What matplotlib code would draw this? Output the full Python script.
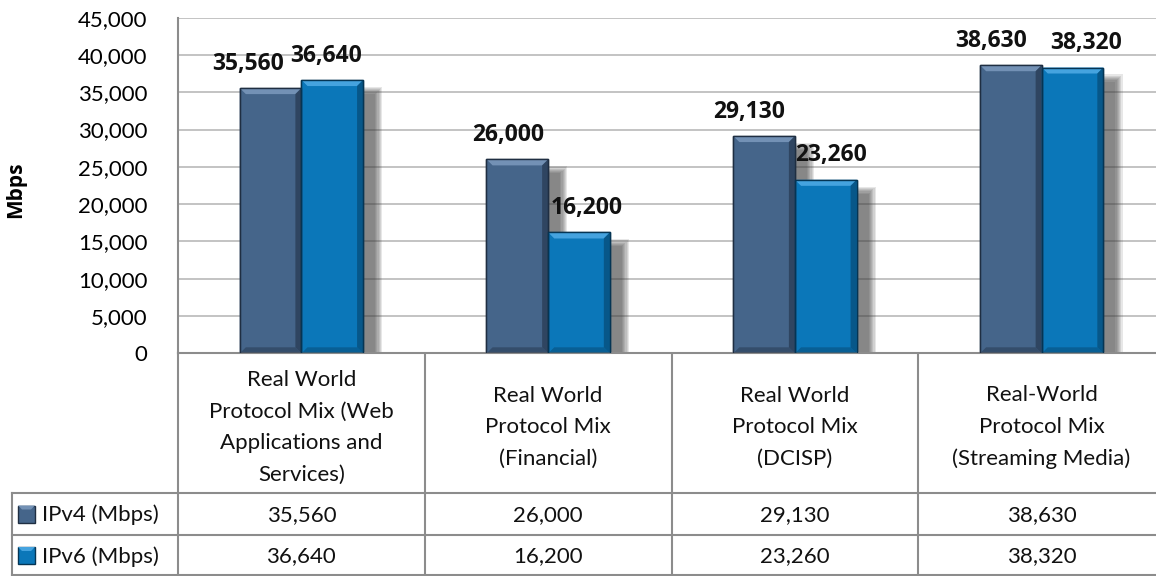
import numpy as np
import matplotlib.pyplot as plt
from matplotlib.patches import Polygon, Rectangle
from matplotlib.transforms import blended_transform_factory

plt.rcParams["font.family"] = ["Lato", "DejaVu Sans"]

categories = [
    "Real World\nProtocol Mix (Web\nApplications and\nServices)",
    "Real World\nProtocol Mix\n(Financial)",
    "Real World\nProtocol Mix\n(DCISP)",
    "Real-World\nProtocol Mix\n(Streaming Media)",
]
series_names = ["IPv4 (Mbps)", "IPv6 (Mbps)"]
ipv4 = [35560, 26000, 29130, 38630]
ipv6 = [36640, 16200, 23260, 38320]
yticks = np.arange(0, 45001, 5000)

# face, light bevel, dark bevel, outline
styles = [
    ("#45658A", "#7391B5", "#2A3E57", "#1F2E42"),
    ("#0B77B9", "#45A3DF", "#07507E", "#053554"),
]
# data label x shifts in px (Excel nudges overlapping labels)
label_dx = [[-22, -6], [-9, 8], [-15, 5], [-20, 14]]

W, H = 1156, 576
fig = plt.figure(figsize=(W / 100, H / 100), dpi=100)

# pixel geometry of the plot area (right edge runs past the image)
x0, x1, ybase, ytop = 178, 1165, 353.3, 17.7
ax = fig.add_axes([x0 / W, (H - ybase) / H, (x1 - x0) / W, (ybase - ytop) / H])
ax.set_xlim(-0.5, len(categories) - 0.5)
ax.set_ylim(0, 45000)

px_x = (len(categories)) / (x1 - x0)   # data units per px (x)
px_y = 45000 / (ybase - ytop)          # data units per px (y)

for y in yticks[1:]:
    ax.axhline(y, color="#BEBEBE", lw=1.3, zorder=0)

x = np.arange(len(categories))
width = 0.25
series = [ipv4, ipv6]
offsets = [-width / 2, width / 2]

# soft drop shadows
for vals, off in zip(series, offsets):
    for xi, v in zip(x, vals):
        left = xi + off - width / 2
        for k in range(7):
            grow = k * 1.2
            ax.add_patch(Rectangle(
                (left + (9 - grow) * px_x, 0),
                width + (3 + 2 * grow) * px_x,
                v - (14 - grow) * px_y,
                color="#3A3A3A", alpha=0.12, lw=0, zorder=1))

# beveled bars
b = 6
for vals, off, (face, light, dark, edge) in zip(series, offsets, styles):
    bars = ax.bar(x + off, vals, width, color=face, edgecolor=edge, lw=1.0, zorder=2)
    for bar in bars:
        l, r = bar.get_x(), bar.get_x() + bar.get_width()
        t = bar.get_height()
        bx, by = b * px_x, b * px_y
        ax.add_patch(Polygon([(l, t), (r, t), (r - bx, t - by), (l + bx, t - by)],
                             color=light, lw=0, zorder=3))
        ax.add_patch(Polygon([(r, t), (r, 0), (r - bx, by), (r - bx, t - by)],
                             color=dark, lw=0, alpha=0.8, zorder=3))
        ax.add_patch(Polygon([(l, 0), (r, 0), (r - bx, by), (l + bx, by)],
                             color=dark, lw=0, alpha=0.6, zorder=3))
        ax.add_patch(Polygon([(l, t), (l, 0), (l + bx, by), (l + bx, t - by)],
                             color=face, lw=0, alpha=0.6, zorder=3))
        ax.add_patch(Rectangle((l, 0), r - l, t, fill=False, ec=edge, lw=1.0, zorder=4))

for s, (vals, off) in enumerate(zip(series, offsets)):
    for i, (xi, v) in enumerate(zip(x, vals)):
        ax.annotate(f"{v:,}", (xi + off, v), xytext=(label_dx[i][s] * 0.72, 9),
                    textcoords="offset points", ha="center", va="bottom",
                    fontsize=16.5, fontweight="bold", family=["Open Sans", "DejaVu Sans"],
                    color="#111111", zorder=5)

ax.set_yticks(yticks)
ax.set_yticklabels([f"{t:,}" for t in yticks], fontsize=16)
ax.tick_params(axis="y", length=0, pad=22)
ax.set_xticks([])
for side in ["top", "right"]:
    ax.spines[side].set_visible(False)
ax.spines["left"].set_color("#8C8C8C")
ax.spines["bottom"].set_color("#8C8C8C")
ax.spines["left"].set_linewidth(1.5)
ax.spines["bottom"].set_linewidth(1.5)

# overlay in figure pixels for the data table
ov = fig.add_axes([0, 0, 1, 1], zorder=-1)
ov.set_xlim(0, W)
ov.set_ylim(H, 0)
ov.axis("off")
ov.patch.set_alpha(0)

ov.text(16, 190, "Mbps", rotation=90, ha="center", va="center",
        fontsize=15, fontweight="bold", family=["Open Sans", "DejaVu Sans"])

grid_c, grid_w = "#8C8C8C", 1.5
row1, row2, row3 = 493, 535, 576
ov.plot([x0, x0], [ybase, row3], color=grid_c, lw=grid_w)
for i in range(1, len(categories)):
    xs = x0 + i * (x1 - x0) / len(categories)
    ov.plot([xs, xs], [ybase, row3], color=grid_c, lw=grid_w)
ov.plot([12, W], [row1, row1], color=grid_c, lw=grid_w)
ov.plot([12, W], [row2, row2], color=grid_c, lw=grid_w)
ov.plot([12, W], [row3 - 0.8, row3 - 0.8], color=grid_c, lw=grid_w)
ov.plot([12, 12], [row1, row3], color=grid_c, lw=grid_w)

tr = blended_transform_factory(ax.transData, ov.transData)
for xi, cat in zip(x, categories):
    ov.text(xi, (ybase + row1) / 2 + 4, cat, transform=tr, ha="center", va="center",
            fontsize=16, linespacing=1.72, color="#111111")
rows_y = [(row1 + row2) / 2, (row2 + row3) / 2]
for vals, yy, name, (face, light, dark, edge) in zip(series, rows_y, series_names, styles):
    ov.add_patch(Rectangle((18, yy - 8.5), 17, 17, color=face, ec=edge, lw=1))
    ov.add_patch(Polygon([(18, yy - 8.5), (35, yy - 8.5), (31, yy - 4.5), (22, yy - 4.5)],
                         color=light, lw=0))
    ov.text(42, yy + 1, name, ha="left", va="center", fontsize=16, color="#111111")
    for xi, v in zip(x, vals):
        ov.text(xi, yy + 1, f"{v:,}", transform=tr, ha="center", va="center",
                fontsize=16, color="#111111")

fig.savefig("out.png", dpi=100)
